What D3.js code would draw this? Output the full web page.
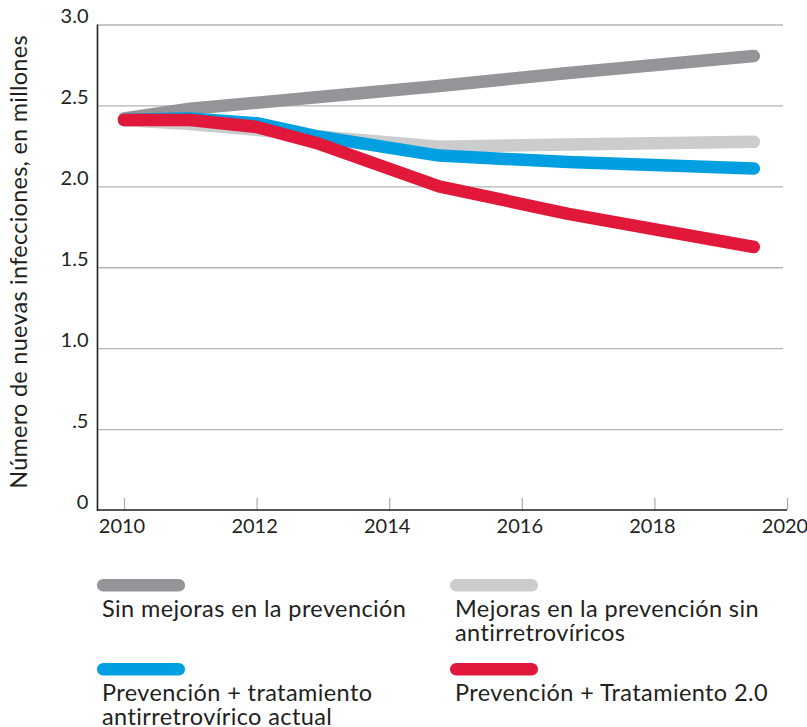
<!DOCTYPE html>
<html>
<head>
<meta charset="utf-8">
<script src="https://cdn.jsdelivr.net/npm/d3@7"></script>
<style>
  body { margin: 0; background: #fff; }
  text { font-family: Lato, "Open Sans", sans-serif; fill: #231f20; }
</style>
</head>
<body>
<svg id="chart" width="807" height="727"></svg>
<script>
// valeurs (millions de nouvelles infections)
var series_names = ["Sin mejoras en la prevención",
                    "Mejoras en la prevención sin antirretrovíricos",
                    "Prevención + tratamiento antirretrovírico actual",
                    "Prevención + Tratamiento 2.0"];

var years_dark  = [2010, 2011, 2012.9, 2014.75, 2016.7, 2019.5];
var values_dark = [2.42, 2.48, 2.55, 2.62, 2.70, 2.805];

var years_light  = [2010, 2011, 2012, 2012.9, 2014.75, 2016.7, 2019.5];
var values_light = [2.41, 2.385, 2.35, 2.31, 2.245, 2.258, 2.275];

var years_blue  = [2010, 2011, 2012, 2012.9, 2014.75, 2016.7, 2019.5];
var values_blue = [2.41, 2.42, 2.39, 2.31, 2.19, 2.15, 2.11];

var years_red  = [2010, 2011, 2012, 2012.9, 2014.75, 2016.7, 2019.5];
var values_red = [2.41, 2.41, 2.367, 2.268, 2.0, 1.83, 1.625];

var x_ticks = [2010, 2012, 2014, 2016, 2018, 2020];
var y_ticks = [0, 0.5, 1.0, 1.5, 2.0, 2.5, 3.0];
var y_tick_labels = ["0", ".5", "1.0", "1.5", "2.0", "2.5", "3.0"];

// lignes du texte de la légende
var legend_lines = [["Sin mejoras en la prevención"],
                    ["Mejoras en la prevención sin", "antirretrovíricos"],
                    ["Prevención + tratamiento", "antirretrovírico actual"],
                    ["Prevención + Tratamiento 2.0"]];

var svg = d3.select("#chart");

var x = d3.scaleLinear().domain([2010, 2020]).range([124, 787]);
var y = d3.scaleLinear().domain([0, 3]).range([510, 24.5]);
var x_start = 2009.6;   // l'axe commence un peu avant 2010

var color = d3.scaleOrdinal()
              .domain(series_names)
              .range(["#939598", "#cbcccd", "#009fe1", "#e2183a"]);

// grille + étiquettes de l'axe y
var y_axis = d3.axisLeft(y)
               .tickValues(y_ticks)
               .tickFormat(function(d, i){ return y_tick_labels[i]; })
               .tickSizeInner(-(783 - x(x_start)))
               .tickSizeOuter(0)
               .tickPadding(9);

var gy = svg.append("g")
            .attr("transform", "translate(" + x(x_start) + ",0)")
            .call(y_axis);
gy.select(".domain").remove();
gy.selectAll(".tick line")
  .attr("stroke", "#b5b5b5")
  .attr("stroke-width", 1.3)
  .filter(function(d){ return d == 0; }).remove();
gy.selectAll(".tick text")
  .attr("dy", "-0.1em")
  .style("font-size", "20px")
  .style("font-family", "Lato, sans-serif")
  .attr("fill", "#231f20");

// axe x
var x_axis = d3.axisBottom(x)
               .tickValues(x_ticks)
               .tickFormat(d3.format("d"))
               .tickSizeInner(-12)
               .tickSizeOuter(0)
               .tickPadding(9);

var gx = svg.append("g")
            .attr("transform", "translate(0," + y(0) + ")")
            .call(x_axis);
gx.select(".domain").remove();
gx.selectAll(".tick line")
  .attr("stroke", "#a7a9ac")
  .attr("stroke-width", 1.2);
gx.selectAll(".tick text")
  .attr("dx", -2.5)
  .style("font-size", "20px")
  .style("font-family", "Lato, sans-serif")
  .attr("fill", "#231f20");

// les deux lignes d'axe
svg.append("line")
   .attr("x1", x(x_start)).attr("x2", x(2020))
   .attr("y1", y(0)).attr("y2", y(0))
   .attr("stroke", "#231f20").attr("stroke-width", 1.6);
svg.append("line")
   .attr("x1", x(x_start)).attr("x2", x(x_start))
   .attr("y1", y(3)).attr("y2", y(0) + 1)
   .attr("stroke", "#231f20").attr("stroke-width", 1.6);

// titre de l'axe y
svg.append("text")
   .attr("transform", "translate(27," + 262 + ") rotate(-90)")
   .attr("text-anchor", "middle")
   .style("font-size", "23.5px")
   .style("letter-spacing", "0.25px")
   .text("Número de nuevas infecciones, en millones");

// les courbes
var all_series = [
    {name: series_names[0], years: years_dark,  values: values_dark},
    {name: series_names[1], years: years_light, values: values_light},
    {name: series_names[2], years: years_blue,  values: values_blue},
    {name: series_names[3], years: years_red,   values: values_red}
];

var line = d3.line()
             .x(function(d){ return x(d[0]); })
             .y(function(d){ return y(d[1]); });

svg.append("g")
   .selectAll("path")
   .data(all_series)
   .enter()
   .append("path")
   .attr("d", function(s){ return line(d3.zip(s.years, s.values)); })
   .attr("fill", "none")
   .attr("stroke", function(s){ return color(s.name); })
   .attr("stroke-width", 12.5)
   .attr("stroke-linecap", "round")
   .attr("stroke-linejoin", "round");

// légende (2 colonnes x 2 rangées)
var legend = svg.append("g")
                .selectAll("g")
                .data(series_names)
                .enter()
                .append("g")
                .attr("transform", function(d, i){
                    return "translate(" + (i % 2 == 0 ? 97 : 450) + "," + (i < 2 ? 579 : 663) + ")";
                });

legend.append("rect")
      .attr("width", 88)
      .attr("height", 12.5)
      .attr("rx", 6.25)
      .attr("fill", function(d){ return color(d); });

legend.append("text")
      .attr("x", 5)
      .attr("y", 38)
      .style("font-size", "23.5px")
      .style("letter-spacing", "0.4px")
      .selectAll("tspan")
      .data(function(d, i){ return legend_lines[i]; })
      .enter()
      .append("tspan")
      .attr("x", 5)
      .attr("dy", function(d, i){ return i == 0 ? 0 : 24; })
      .text(function(d){ return d; });
</script>
</body>
</html>
